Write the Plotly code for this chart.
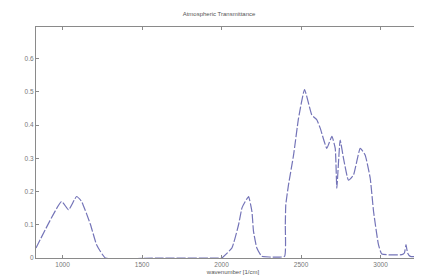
import plotly.graph_objects as go

wavenumber = [833, 994, 1038, 1088, 1120, 1176, 1214, 1270, 1600, 2000,
              2002, 2065, 2107, 2128, 2149, 2170, 2191, 2201, 2222, 2253, 2300, 2396,
              2401, 2404, 2421, 2453, 2484, 2522, 2568, 2599, 2621, 2662, 2694, 2715,
              2725, 2746, 2767, 2798, 2830, 2872, 2903, 2935, 2956, 2987, 3008,
              3134, 3150, 3160, 3170, 3187, 3250, 3311]
transmittance = [0.03, 0.17, 0.145, 0.185, 0.17, 0.10, 0.04, 0.0, 0.0, 0.0,
                 0.0, 0.03, 0.10, 0.15, 0.17, 0.185, 0.14, 0.08, 0.03, 0.005, 0.003, 0.005,
                 0.10, 0.16, 0.22, 0.31, 0.42, 0.507, 0.43, 0.416, 0.39, 0.33, 0.366, 0.33,
                 0.21, 0.355, 0.30, 0.234, 0.25, 0.33, 0.31, 0.24, 0.14, 0.04, 0.012,
                 0.01, 0.015, 0.04, 0.015, 0.005, 0.004, 0.003]

x_ticks = [1000, 1500, 2000, 2500, 3000]
y_ticks = [0, 0.1, 0.2, 0.3, 0.4, 0.5, 0.6]

fig = go.Figure()
fig.add_trace(go.Scatter(x=wavenumber, y=transmittance, mode="lines",
                         line=dict(color="#7474b8", width=1.2, dash="9px,2px",
                                   shape="spline", smoothing=0.4),
                         showlegend=False))

axis_common = dict(showgrid=False, zeroline=False, showline=True, linecolor="#8a8a8a",
                   linewidth=1.2, ticks="inside", ticklen=3, tickcolor="#8a8a8a",
                   tickfont=dict(family="Liberation Sans, Arial", size=6.5, color="#777"))

fig.update_layout(
    width=422, height=275,
    margin=dict(l=28, r=0, t=19, b=25),
    plot_bgcolor="white", paper_bgcolor="white",
    title=dict(text="Atmospheric Transmittance", x=0.5, xanchor="center",
               y=0.985, yanchor="top",
               font=dict(family="Liberation Sans, Arial", size=6, color="#555")),
    xaxis=dict(range=[833, 3311], tickvals=x_ticks, mirror="ticks",
               title=dict(text="wavenumber [1/cm]", standoff=2,
                          font=dict(family="Liberation Sans, Arial", size=6, color="#555")),
               **axis_common),
    yaxis=dict(range=[0, 0.695], tickvals=y_ticks, mirror=False, **axis_common),
)

fig.write_html("out.html")
